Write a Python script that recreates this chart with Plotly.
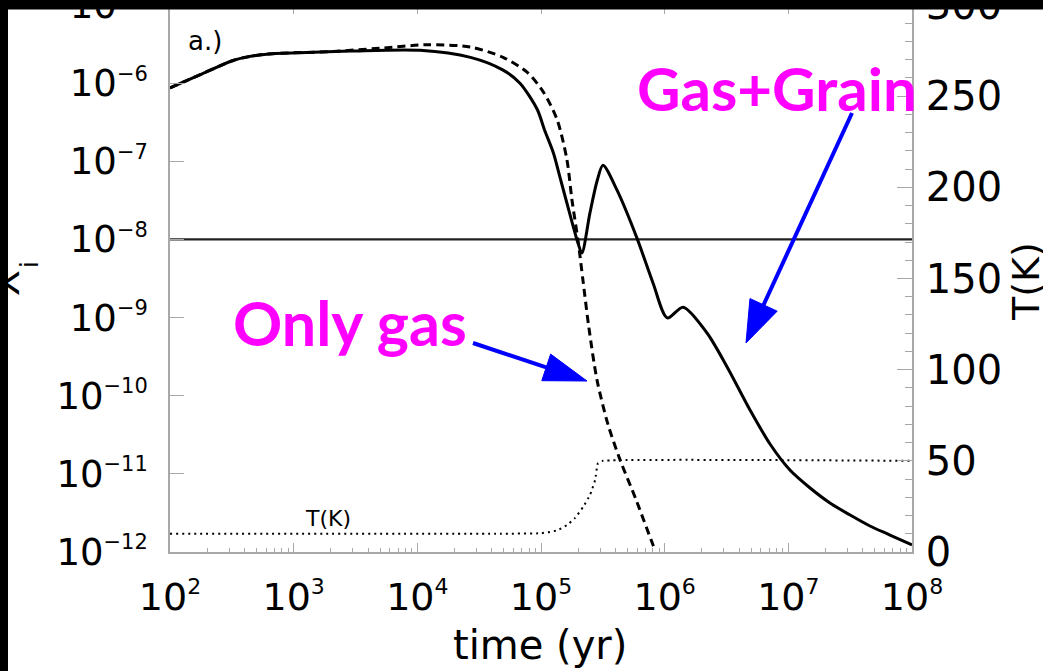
import plotly.graph_objects as go

# ---------------- data ----------------
# Gas+Grain model (solid line)
time_grain = [1.00e2, 1.74e2, 3.24e2, 4.44e2, 6.03e2, 1.12e3, 2.88e3, 1.05e4,
              2.69e4, 4.90e4, 6.76e4, 9.33e4, 1.07e5, 1.26e5, 1.43e5, 1.71e5,
              1.99e5, 2.14e5, 2.49e5, 2.84e5, 3.17e5, 4.11e5, 5.97e5, 8.05e5,
              1.05e6, 1.41e6, 2.20e6, 3.19e6, 4.90e6, 7.11e6, 1.03e7, 1.50e7,
              2.17e7, 3.16e7, 4.57e7, 6.64e7, 1.00e8]
abund_grain = [8.7e-7, 1.28e-6, 1.95e-6, 2.2e-6, 2.35e-6, 2.45e-6, 2.57e-6, 2.63e-6,
               2.14e-6, 1.48e-6, 1.0e-6, 4.6e-7, 2.5e-7, 1.28e-7, 6.1e-8, 2.12e-8,
               9.0e-9, 6.7e-9, 2.2e-8, 5.6e-8, 8.9e-8, 4.3e-8, 1.04e-8, 2.77e-9,
               9.9e-10, 1.36e-9, 6.35e-10, 2.35e-10, 6.56e-11, 2.41e-11, 1.12e-11,
               6.59e-12, 4.24e-12, 2.97e-12, 2.15e-12, 1.65e-12, 1.23e-12]

# Only-gas model (dashed line)
time_gas = [1.00e2, 1.74e2, 3.24e2, 4.44e2, 6.03e2, 2.09e3, 5.0e3, 1.20e4, 2.67e4,
            4.93e4, 7.71e4, 1.04e5, 1.35e5, 1.62e5, 1.78e5, 1.99e5, 2.19e5,
            2.44e5, 2.84e5, 3.48e5, 4.36e5, 5.86e5, 8.05e5, 8.4e5]
abund_gas = [8.7e-7, 1.28e-6, 1.95e-6, 2.2e-6, 2.35e-6, 2.55e-6, 2.8e-6, 3.1e-6, 2.9e-6,
             2.14e-6, 1.38e-6, 7.8e-7, 3.4e-7, 1.05e-7, 3.2e-8, 9.8e-9, 2.9e-9,
             7.4e-10, 1.58e-10, 4.3e-11, 1.51e-11, 4.7e-12, 1.23e-12, 1.05e-12]

# Temperature (dotted line, right axis)
time_temp = [1.00e2, 4.66e4, 1.00e5, 1.18e5, 1.37e5, 1.62e5, 1.88e5, 2.19e5,
             2.49e5, 2.74e5, 2.89e5, 3.17e5, 1.00e8]
temp_K = [10, 10, 10.3, 11, 12, 14.8, 18.6, 24.7, 31.3, 39.5, 48.8, 50, 50]

# reference abundance level
ref_level = 1e-8
ref_time = [1e2, 1e8]

x_tick_vals = [1e2, 1e3, 1e4, 1e5, 1e6, 1e7, 1e8]
x_tick_exp = ["2", "3", "4", "5", "6", "7", "8"]
y_tick_vals = [1e-12, 1e-11, 1e-10, 1e-9, 1e-8, 1e-7, 1e-6, 1e-5]
y_tick_exp = ["\u221212", "\u221211", "\u221210", "\u22129", "\u22128",
              "\u22127", "\u22126", "\u22125"]
t_tick_vals = [0, 50, 100, 150, 200, 250, 300]

# ---------------- layout geometry ----------------
W, H = 1043, 671
L, R, T, B = 170, 912, 5, 552   # plot area in pixels


def px(x):
    return (x - L) / (R - L)


def py(y):
    return (B - y) / (B - T)


FONT = "DejaVu Sans"
AXC = "#a8a8a8"

fig = go.Figure()

fig.add_trace(go.Scatter(x=ref_time, y=[ref_level, ref_level], mode="lines",
                         line=dict(color="#222222", width=2.2),
                         hoverinfo="skip", showlegend=False))
fig.add_trace(go.Scatter(x=time_gas, y=abund_gas, mode="lines",
                         line=dict(color="black", width=3, dash="8px,5px",
                                   shape="spline", smoothing=0.8),
                         showlegend=False))
fig.add_trace(go.Scatter(x=time_grain, y=abund_grain, mode="lines",
                         line=dict(color="black", width=3,
                                   shape="spline", smoothing=0.8),
                         showlegend=False))
fig.add_trace(go.Scatter(x=time_temp, y=temp_K, mode="lines", yaxis="y2",
                         line=dict(color="black", width=2, dash="2px,4px",
                                   shape="spline", smoothing=0.4),
                         showlegend=False))


def sup(base, e, size):
    return f"{base}<sup><span style='font-size:{size}px'>{e}</span></sup>"


fig.update_layout(
    width=W, height=H,
    margin=dict(l=L, r=W - R, t=T, b=H - B, pad=0, autoexpand=False),
    paper_bgcolor="white", plot_bgcolor="white",
    showlegend=False,
    xaxis=dict(type="log", range=[2, 8], showgrid=False, zeroline=False,
               automargin=False,
               showline=True, linecolor=AXC, linewidth=1.5, mirror="ticks",
               ticks="inside", ticklen=9, tickwidth=1.2, tickcolor=AXC,
               tickmode="array", tickvals=x_tick_vals,
               ticktext=[sup("10", e, 22) for e in x_tick_exp],
               tickfont=dict(family=FONT, size=38, color="black"),
               ticklabelstandoff=11, ticklabeloverflow="allow",
               minor=dict(ticks="inside", ticklen=4, tickwidth=1,
                          tickcolor=AXC, dtick="D1", showgrid=False)),
    yaxis=dict(type="log", range=[-12, -4.9999], showgrid=False, zeroline=False,
               automargin=False,
               showline=True, linecolor=AXC, linewidth=1.5,
               ticks="inside", ticklen=14, tickwidth=1.2, tickcolor=AXC,
               tickmode="array", tickvals=y_tick_vals,
               ticktext=[sup("10", e, 21) for e in y_tick_exp],
               tickfont=dict(family=FONT, size=37, color="black"),
               ticklabelstandoff=13, ticklabeloverflow="allow"),
    yaxis2=dict(overlaying="y", side="right", range=[0, 300.01],
                showgrid=False, zeroline=False, automargin=False,
                showline=True, linecolor=AXC, linewidth=1.5,
                ticks="inside", ticklen=15, tickwidth=1.2, tickcolor=AXC,
                tickmode="array", tickvals=t_tick_vals,
                tickfont=dict(family=FONT, size=40, color="black"),
                ticklabelstandoff=4, ticklabeloverflow="allow",
                minor=dict(ticks="inside", ticklen=7, tickwidth=1,
                           tickcolor=AXC, dtick=10, showgrid=False)),
)


def label(text, x, y, size, family=FONT, color="black", angle=0, bold=False):
    f = dict(family=family, size=size, color=color)
    if bold:
        f["weight"] = "bold"
    return dict(text=text, x=px(x), y=py(y), xref="paper", yref="paper",
                xanchor="center", yanchor="middle", showarrow=False,
                textangle=angle, font=f)


COMIC = "Comic Sans MS, Lato"
ann = [
    label("a.)", 205, 41, 26),
    label("T(K)", 328, 518, 22),
    label("Only gas", 350, 322, 61, COMIC, "#ff00ff", bold=True),
    label("Gas+Grain", 777, 88, 60, COMIC, "#ff00ff", bold=True),
    label("T(K)", 1026, 282, 38, angle=-90),
    # left axis title X_i (mostly clipped by the frame edge)
    label("X", 6, 283, 38, angle=-90),
    label("i", 30, 265, 24, angle=-90),
    label("time (yr)", 540, 645, 40),
]
fig.update_layout(annotations=ann)

shapes = []
BLUE = "#0000ff"


def arrow(tail, tip, head_len, half_w):
    dx, dy = tip[0] - tail[0], tip[1] - tail[1]
    n = (dx * dx + dy * dy) ** 0.5
    ux, uy = dx / n, dy / n
    bx, by = tip[0] - head_len * ux, tip[1] - head_len * uy
    nx, ny = -uy, ux
    v1 = (bx + half_w * nx, by + half_w * ny)
    v2 = (bx - half_w * nx, by - half_w * ny)
    line = dict(type="line", xref="paper", yref="paper",
                x0=px(tail[0]), y0=py(tail[1]), x1=px(bx + 4 * ux), y1=py(by + 4 * uy),
                line=dict(color=BLUE, width=4), layer="above")
    path = (f"M{px(tip[0])},{py(tip[1])} L{px(v1[0])},{py(v1[1])} "
            f"L{px(v2[0])},{py(v2[1])} Z")
    head = dict(type="path", xref="paper", yref="paper", path=path,
                fillcolor=BLUE, line=dict(color=BLUE, width=1), layer="above")
    return [line, head]


shapes += arrow((473, 343), (587, 381), 43, 14)
shapes += arrow((852, 113), (746, 343), 42, 15)

# black frame remnants at the top and left edges
shapes.append(dict(type="rect", xref="paper", yref="paper",
                   x0=px(0), x1=px(W), y0=py(0), y1=py(9.5),
                   fillcolor="black", line=dict(width=0), layer="above"))
shapes.append(dict(type="rect", xref="paper", yref="paper",
                   x0=px(0), x1=px(8), y0=py(0), y1=py(H),
                   fillcolor="black", line=dict(width=0), layer="above"))
fig.update_layout(shapes=shapes)

fig.write_html("out.html", config={"displayModeBar": False},
               post_script="document.body.style.margin='0px';"
                           "document.body.style.overflow='hidden';")
